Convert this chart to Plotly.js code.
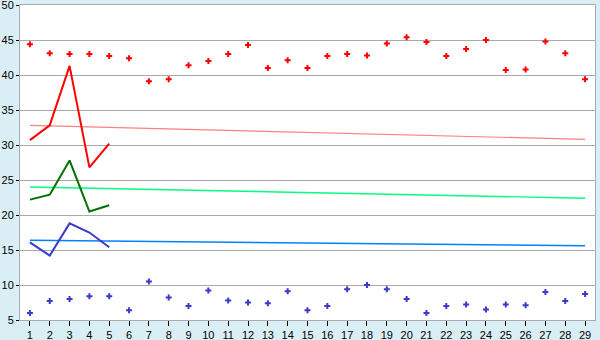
<!DOCTYPE html>
<html>
<head>
<meta charset="utf-8">
<script src="https://cdn.plot.ly/plotly-3.0.1.min.js"></script>
<style>html,body{margin:0;padding:0;background:#daeff5;}</style>
</head>
<body>
<div id="chart" style="width:600px;height:340px;"></div>
<script>
const days = Array.from({length: 29}, (_, i) => i + 1);
const highPoints = [44.4, 43.1, 43.0, 43.0, 42.7, 42.4, 39.1, 39.4, 41.4, 42.0, 43.0, 44.3, 41.0, 42.1, 41.0, 42.7, 43.0, 42.8, 44.5, 45.4, 44.7, 42.7, 43.7, 45.0, 40.7, 40.8, 44.8, 43.1, 39.4];
const lowPoints = [6.0, 7.7, 8.0, 8.4, 8.4, 6.4, 10.5, 8.2, 7.0, 9.2, 7.8, 7.5, 7.4, 9.1, 6.4, 7.0, 9.4, 10.0, 9.4, 8.0, 6.0, 7.0, 7.2, 6.5, 7.2, 7.1, 9.0, 7.7, 8.7];
const lineDays = [1, 2, 3, 4, 5];
const redLine = [30.7, 32.8, 41.3, 26.8, 30.2];
const greenLine = [22.2, 22.9, 27.8, 20.5, 21.4];
const blueLine = [16.1, 14.2, 18.8, 17.5, 15.4];
const trendDays = [1, 29];
const redTrend = [32.8, 30.8];
const greenTrend = [24.0, 22.4];
const blueTrend = [16.4, 15.6];
const yTicks = [5, 10, 15, 20, 25, 30, 35, 40, 45, 50];

const traces = [
  {x: trendDays, y: redTrend, mode: 'lines', line: {color: '#ff8080', width: 1.2}, hoverinfo: 'skip'},
  {x: trendDays, y: greenTrend, mode: 'lines', line: {color: '#00ff80', width: 1.4}, hoverinfo: 'skip'},
  {x: trendDays, y: blueTrend, mode: 'lines', line: {color: '#0080ff', width: 1.4}, hoverinfo: 'skip'},
  {x: lineDays, y: redLine, mode: 'lines', line: {color: '#ff0000', width: 2}},
  {x: lineDays, y: greenLine, mode: 'lines', line: {color: '#007000', width: 2}},
  {x: lineDays, y: blueLine, mode: 'lines', line: {color: '#3a3acc', width: 2}},
  {x: days, y: highPoints, mode: 'markers', marker: {symbol: 'cross', size: 5, color: '#ff0000', line: {width: 0}}},
  {x: days, y: lowPoints, mode: 'markers', marker: {symbol: 'cross', size: 5, color: '#3a3acc', line: {width: 0}}}
];

const layout = {
  width: 600, height: 340,
  margin: {l: 20, r: 5, t: 5, b: 20, pad: 0},
  paper_bgcolor: '#daeff5',
  plot_bgcolor: '#ffffff',
  showlegend: false,
  font: {family: 'Liberation Sans, Arial, sans-serif', size: 11, color: '#000'},
  xaxis: {
    range: [0.5, 29.5], tickvals: days, ticktext: days.map(String),
    ticks: 'outside', ticklen: 5, tickcolor: '#000', showgrid: false, zeroline: false,
    showline: true, linecolor: '#aaaaaa', linewidth: 1, mirror: true,
    ticklabeloverflow: 'allow',
    tickfont: {size: 11}
  },
  yaxis: {
    range: [5, 50], tickvals: yTicks, ticktext: yTicks.map(String),
    ticks: 'outside', ticklen: 3, tickcolor: '#000',
    showgrid: true, gridcolor: '#aaaaaa', gridwidth: 1, zeroline: false,
    showline: true, linecolor: '#aaaaaa', linewidth: 1, mirror: true,
    ticklabeloverflow: 'allow',
    tickfont: {size: 11}
  }
};

Plotly.newPlot('chart', traces, layout, {displayModeBar: false, staticPlot: true});
</script>
</body>
</html>
